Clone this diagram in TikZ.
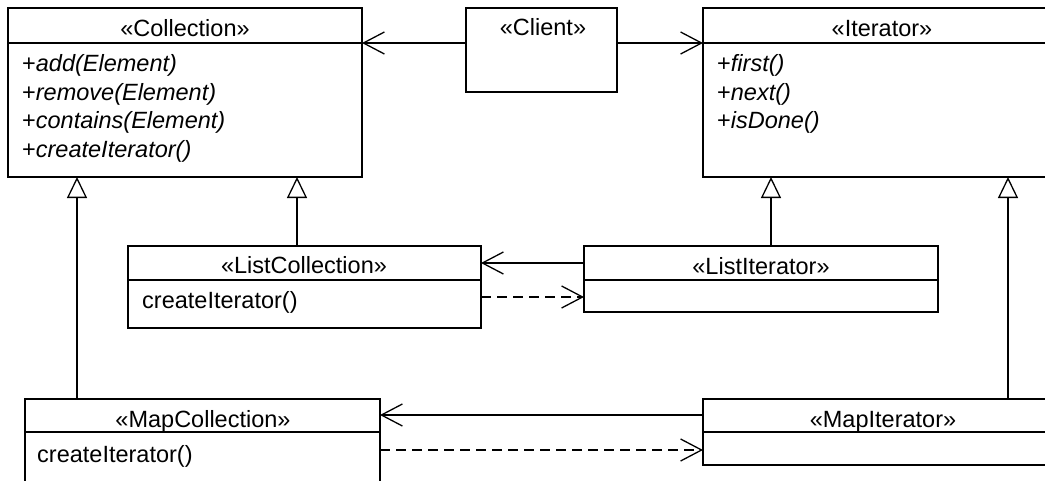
\documentclass[tikz,border=0pt]{standalone}
\usepackage{fontspec}
\setmainfont{Liberation Sans}
\usetikzlibrary{arrows.meta}
\newcommand{\umlfont}{\fontsize{23.5}{28}\selectfont}
\tikzset{
  classbox/.style={draw, line width=1.3pt, inner sep=0pt, outer sep=0pt, anchor=north west, fill=none},
  divider/.style={line width=1.3pt},
  hdr/.style={anchor=base, inner sep=0pt, font=\umlfont},
  mth/.style={anchor=base west, inner sep=0pt, font=\umlfont},
  assoc/.style={line width=1.3pt, -{Straight Barb[length=21pt, width=22pt, line width=1.3pt]}},
  dep/.style={line width=1.3pt, dash pattern=on 10pt off 6pt, -{Straight Barb[length=21pt, width=22pt, line width=1.3pt, sep=0pt]}},
  gen/.style={line width=1.3pt, -{Triangle[open, length=21pt, width=20pt, line width=1.3pt, fill=white]}}
}
\begin{document}
\begin{tikzpicture}[x=1pt, y=-1pt]
\useasboundingbox (0,0) rectangle (1045,480);
\clip (0,0) rectangle (1045,480);
\fill[white] (0,0) rectangle (1045,480);
% class boxes
\node[classbox, minimum width=354pt, minimum height=169pt] (coll) at (8,8) {};
\node[classbox, minimum width=151pt, minimum height=84pt] (client) at (466,8) {};
\node[classbox, minimum width=360pt, minimum height=169pt] (iter) at (703,8) {};
\node[classbox, minimum width=353pt, minimum height=82pt] (lcoll) at (128,246) {};
\node[classbox, minimum width=354pt, minimum height=66pt] (liter) at (584,246) {};
\node[classbox, minimum width=355pt, minimum height=100pt] (mcoll) at (25,399) {};
\node[classbox, minimum width=360pt, minimum height=66pt] (miter) at (703,399) {};
% dividers
\coordinate (d1) at (0,43);
\coordinate (d2) at (0,280);
\coordinate (d3) at (0,432);
\draw[divider] (coll.west |- d1) -- (coll.east |- d1);
\draw[divider] (iter.west |- d1) -- (iter.east |- d1);
\draw[divider] (lcoll.west |- d2) -- (lcoll.east |- d2);
\draw[divider] (liter.west |- d2) -- (liter.east |- d2);
\draw[divider] (mcoll.west |- d3) -- (mcoll.east |- d3);
\draw[divider] (miter.west |- d3) -- (miter.east |- d3);
% headers
\node[hdr] (collh) at (185,36) {«Collection»};
\node[hdr] (clienth) at (543,35) {«Client»};
\node[hdr] (iterh) at (882,36) {«Iterator»};
\node[hdr] (lcollh) at (304,273) {«ListCollection»};
\node[hdr] (literh) at (761,274) {«ListIterator»};
\node[hdr] (mcollh) at (203,427) {«MapCollection»};
\node[hdr] (miterh) at (883,427) {«MapIterator»};
% operations
\node[mth] (cm1) at (22,71) {+\textit{add(Element)}};
\node[mth] (cm2) at (22,100) {+\textit{remove(Element)}};
\node[mth] (cm3) at (22,128) {+\textit{contains(Element)}};
\node[mth] (cm4) at (22,157) {+\textit{createIterator()}};
\node[mth] (im1) at (717,71) {+\textit{first()}};
\node[mth] (im2) at (717,100) {+\textit{next()}};
\node[mth] (im3) at (717,128) {+\textit{isDone()}};
\node[mth] (lm1) at (142,308) {createIterator()};
\node[mth] (mm1) at (37,462) {createIterator()};
% associations
\draw[assoc] (client.west |- d1) -- (coll.east |- d1);
\draw[assoc] (client.east |- d1) -- (iter.west |- d1);
\coordinate (a1) at (0,263);
\coordinate (a2) at (0,297);
\coordinate (a3) at (0,415);
\coordinate (a4) at (0,450);
\draw[assoc] (liter.west |- a1) -- (lcoll.east |- a1);
\draw[dep] (lcoll.east |- a2) -- (liter.west |- a2);
\draw[assoc] (miter.west |- a3) -- (mcoll.east |- a3);
\draw[dep] (mcoll.east |- a4) -- (miter.west |- a4);
% generalizations
\coordinate (g1) at (77,0);
\coordinate (g2) at (297,0);
\coordinate (g3) at (771,0);
\coordinate (g4) at (1008,0);
\draw[gen] (mcoll.north -| g1) -- (coll.south -| g1);
\draw[gen] (lcoll.north -| g2) -- (coll.south -| g2);
\draw[gen] (liter.north -| g3) -- (iter.south -| g3);
\draw[gen] (miter.north -| g4) -- (iter.south -| g4);
\end{tikzpicture}
\end{document}
